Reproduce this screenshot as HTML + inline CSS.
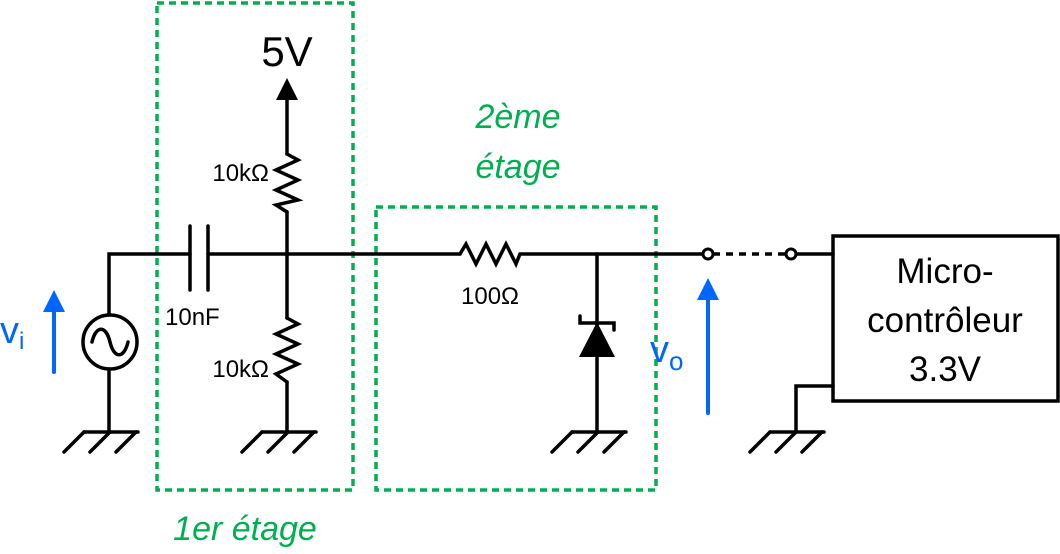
<!DOCTYPE html>
<html><head><meta charset="utf-8"><style>body{margin:0;background:#fff}svg{display:block}</style></head><body>
<svg width="1060" height="554" viewBox="0 0 1060 554" xmlns="http://www.w3.org/2000/svg" font-family="Liberation Sans, DejaVu Sans, sans-serif">
<g fill="none" stroke="#00b050" stroke-width="3.5" stroke-dasharray="7,5">
<rect x="157" y="3" width="196" height="487"/>
<rect x="376" y="207" width="280" height="283"/>
</g>
<g stroke="#000" stroke-width="3.5" fill="none" stroke-linecap="round">
<polyline points="109,432 109,369"/>
<polyline points="109,315 109,254 190,254"/>
<circle cx="110" cy="342" r="27"/>
<path d="M92,342 C96,325 106,325 110,342 C114,359 124,359 128,342"/>
<line x1="190" y1="226" x2="190" y2="290"/>
<line x1="208" y1="226" x2="208" y2="290"/>
<line x1="208" y1="254" x2="460" y2="254"/>
<line x1="287" y1="99" x2="287" y2="154"/>
<polyline points="287,154 298,160 276,170 298,180 276,190 298,200 276,205 287,212"/>
<line x1="287" y1="212" x2="287" y2="318"/>
<polyline points="287,318 298,324 276,334 298,344 276,354 298,364 276,374 287,382"/>
<line x1="287" y1="382" x2="287" y2="432"/>
<polyline points="460,254 466,244 476,264 486,244 496,264 506,244 516,264 520,254 705,254"/>
<line x1="597" y1="254" x2="597" y2="432"/>
<polyline points="580,316 580,323 614,323 614,330"/>
<line x1="713" y1="254" x2="786" y2="254" stroke-dasharray="7,6" stroke-linecap="butt"/>
<line x1="796" y1="254" x2="833" y2="254"/>
<rect x="833" y="236" width="225" height="165"/>
<polyline points="833,386 796,386 796,432"/>
<g id="g">
<line x1="84" y1="432" x2="138" y2="432"/>
<line x1="84" y1="432" x2="64" y2="452"/>
<line x1="110" y1="432" x2="90" y2="452"/>
<line x1="136" y1="432" x2="116" y2="452"/>
</g>
<use href="#g" x="178"/>
<use href="#g" x="488"/>
<use href="#g" x="686"/>
</g>
<circle cx="708" cy="254" r="5" fill="#fff" stroke="#000" stroke-width="3"/>
<circle cx="791" cy="254" r="5" fill="#fff" stroke="#000" stroke-width="3"/>
<polygon points="287,78 276,100 298,100" fill="#000"/>
<polygon points="597,322 579,357 615,357" fill="#000"/>
<line x1="54" y1="372" x2="54" y2="300" stroke="#0066ff" stroke-width="4" stroke-linecap="round"/>
<polygon points="54,290 43,312 65,312" fill="#0066ff"/>
<line x1="708" y1="413" x2="708" y2="290" stroke="#0066ff" stroke-width="4" stroke-linecap="round"/>
<polygon points="708,278 697,300 719,300" fill="#0066ff"/>
<text x="287" y="66" font-size="42" text-anchor="middle">5V</text>
<text x="269" y="181" font-size="24" text-anchor="end">10kΩ</text>
<text x="269" y="377" font-size="24" text-anchor="end">10kΩ</text>
<text x="165" y="325" font-size="24">10nF</text>
<text x="490" y="304" font-size="24" text-anchor="middle">100Ω</text>
<text x="0" y="343" font-size="38" fill="#0066ff">v<tspan font-size="24" dy="6">i</tspan></text>
<text x="650" y="362" font-size="38" fill="#0066ff">v<tspan font-size="26" dy="8">o</tspan></text>
<text x="945" y="283" font-size="35" text-anchor="middle">Micro-</text>
<text x="945" y="332" font-size="35" text-anchor="middle">contrôleur</text>
<text x="945" y="381" font-size="35" text-anchor="middle">3.3V</text>
<g fill="#00b050" font-size="34" font-style="italic" text-anchor="middle">
<text x="518" y="128">2ème</text>
<text x="518" y="178">étage</text>
<text x="245" y="540">1er étage</text>
</g>
</svg>
</body></html>
